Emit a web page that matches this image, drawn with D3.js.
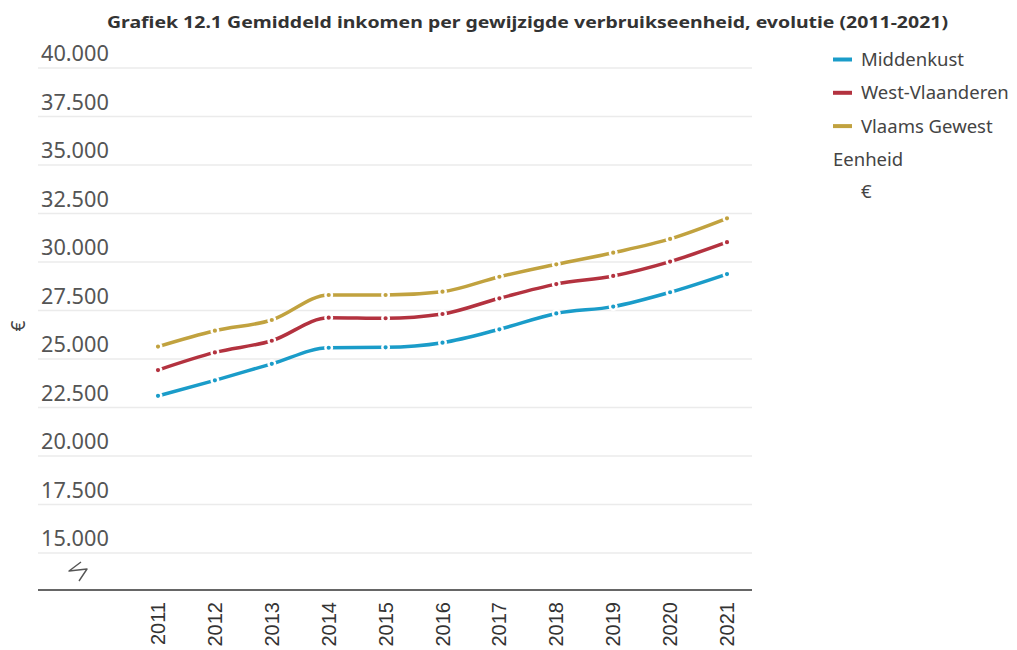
<!DOCTYPE html>
<html>
<head>
<meta charset="utf-8">
<script src="https://cdn.jsdelivr.net/npm/d3@7/dist/d3.min.js"></script>
<style>
  html, body { margin: 0; padding: 0; background: #fff; }
  svg { display: block; }
</style>
</head>
<body>
<svg id="chart" width="1017" height="650"></svg>
<script>
// Gemiddeld inkomen per gewijzigde verbruikseenheid (EUR), 2011-2021
const years = [2011, 2012, 2013, 2014, 2015, 2016, 2017, 2018, 2019, 2020, 2021];
const middenkust     = [23100, 23900, 24750, 25580, 25600, 25840, 26530, 27350, 27700, 28440, 29380];
const westVlaanderen = [24430, 25340, 25940, 27130, 27100, 27320, 28130, 28860, 29280, 30020, 31020];
const vlaamsGewest   = [25640, 26460, 27010, 28300, 28300, 28470, 29240, 29880, 30480, 31190, 32250];

const seriesNames  = ["Middenkust", "West-Vlaanderen", "Vlaams Gewest"];
const seriesColors = ["#1a9cc9", "#b3323f", "#c1a23f"];
const yTicks = [15000, 17500, 20000, 22500, 25000, 27500, 30000, 32500, 35000, 37500, 40000];

const title = "Grafiek 12.1 Gemiddeld inkomen per gewijzigde verbruikseenheid, evolutie (2011-2021)";

const series = [middenkust, westVlaanderen, vlaamsGewest].map((vals, i) => ({
  name: seriesNames[i],
  color: seriesColors[i],
  values: years.map((yr, j) => ({ year: yr, value: vals[j] }))
}));

const svg = d3.select("#chart");

const plotLeft = 38, plotRight = 752, axisY = 590;

const x = d3.scalePoint().domain(years).range([158, 727]);
const y = d3.scaleLinear().domain([15000, 40000]).range([553, 68]);

const fmt = v => d3.format(",")(v).replace(/,/g, ".");

// Title
svg.append("text")
  .attr("x", 107).attr("y", 28)
  .attr("textLength", 841).attr("lengthAdjust", "spacingAndGlyphs")
  .attr("font-family", "'Noto Sans', sans-serif")
  .attr("font-weight", "bold")
  .attr("font-size", 16)
  .attr("fill", "#333")
  .text(title);

// Gridlines and value labels
const grid = svg.append("g");
grid.selectAll("line").data(yTicks).join("line")
  .attr("x1", plotLeft).attr("x2", plotRight)
  .attr("y1", d => y(d)).attr("y2", d => y(d))
  .attr("stroke", "#ebebeb").attr("stroke-width", 1.5);
grid.selectAll("text").data(yTicks).join("text")
  .attr("x", 41).attr("y", d => y(d) - 7)
  .attr("font-family", "'Noto Sans', sans-serif")
  .attr("font-size", 21.7)
  .attr("fill", "#555")
  .text(d => fmt(d));

// Axis-break marker
svg.append("path")
  .attr("d", "M81,562 L69,571 L87,569 L79,581")
  .attr("fill", "none").attr("stroke", "#555").attr("stroke-width", 1.4)
  .attr("stroke-linejoin", "round");

// Y-axis unit
svg.append("text")
  .attr("transform", "translate(25,326) rotate(-90)")
  .attr("text-anchor", "middle")
  .attr("font-family", "'Noto Sans', sans-serif")
  .attr("font-size", 19)
  .attr("fill", "#444")
  .text("€");

// X axis
const xAxis = svg.append("g").attr("transform", `translate(0,${axisY})`);
xAxis.append("line")
  .attr("x1", plotLeft).attr("x2", plotRight)
  .attr("stroke", "#333").attr("stroke-width", 1.5);
xAxis.selectAll("text").data(years).join("text")
  .attr("transform", d => `translate(${x(d)},12) rotate(-90)`)
  .attr("text-anchor", "end")
  .attr("dy", "0.35em")
  .attr("font-family", "'Liberation Sans', Arial, sans-serif")
  .attr("font-size", 20)
  .attr("fill", "#333")
  .text(d => d);

// Lines
const line = d3.line()
  .x(d => x(d.year))
  .y(d => y(d.value))
  .curve(d3.curveMonotoneX);

const lines = svg.append("g");
series.forEach(s => {
  lines.append("path")
    .datum(s.values)
    .attr("d", line)
    .attr("fill", "none")
    .attr("stroke", s.color)
    .attr("stroke-width", 3.5)
    .attr("stroke-linejoin", "round");
});
series.forEach(s => {
  lines.append("g").selectAll("circle").data(s.values).join("circle")
    .attr("cx", d => x(d.year))
    .attr("cy", d => y(d.value))
    .attr("r", 3.3)
    .attr("fill", s.color)
    .attr("stroke", "#fff")
    .attr("stroke-width", 2.4);
});

// Legend
const legend = svg.append("g").attr("font-family", "'Noto Sans', sans-serif").attr("font-size", 18.5).attr("fill", "#444");
series.forEach((s, i) => {
  const ly = 59.5 + i * 33.3;
  legend.append("line")
    .attr("x1", 833).attr("x2", 852).attr("y1", ly).attr("y2", ly)
    .attr("stroke", s.color).attr("stroke-width", 4);
  legend.append("text")
    .attr("x", 861).attr("y", ly).attr("dy", "0.35em")
    .text(s.name);
});
legend.append("text").attr("x", 833).attr("y", 159.5).attr("dy", "0.35em").text("Eenheid");
legend.append("text").attr("x", 861).attr("y", 192).attr("dy", "0.35em").text("€");
</script>
</body>
</html>
